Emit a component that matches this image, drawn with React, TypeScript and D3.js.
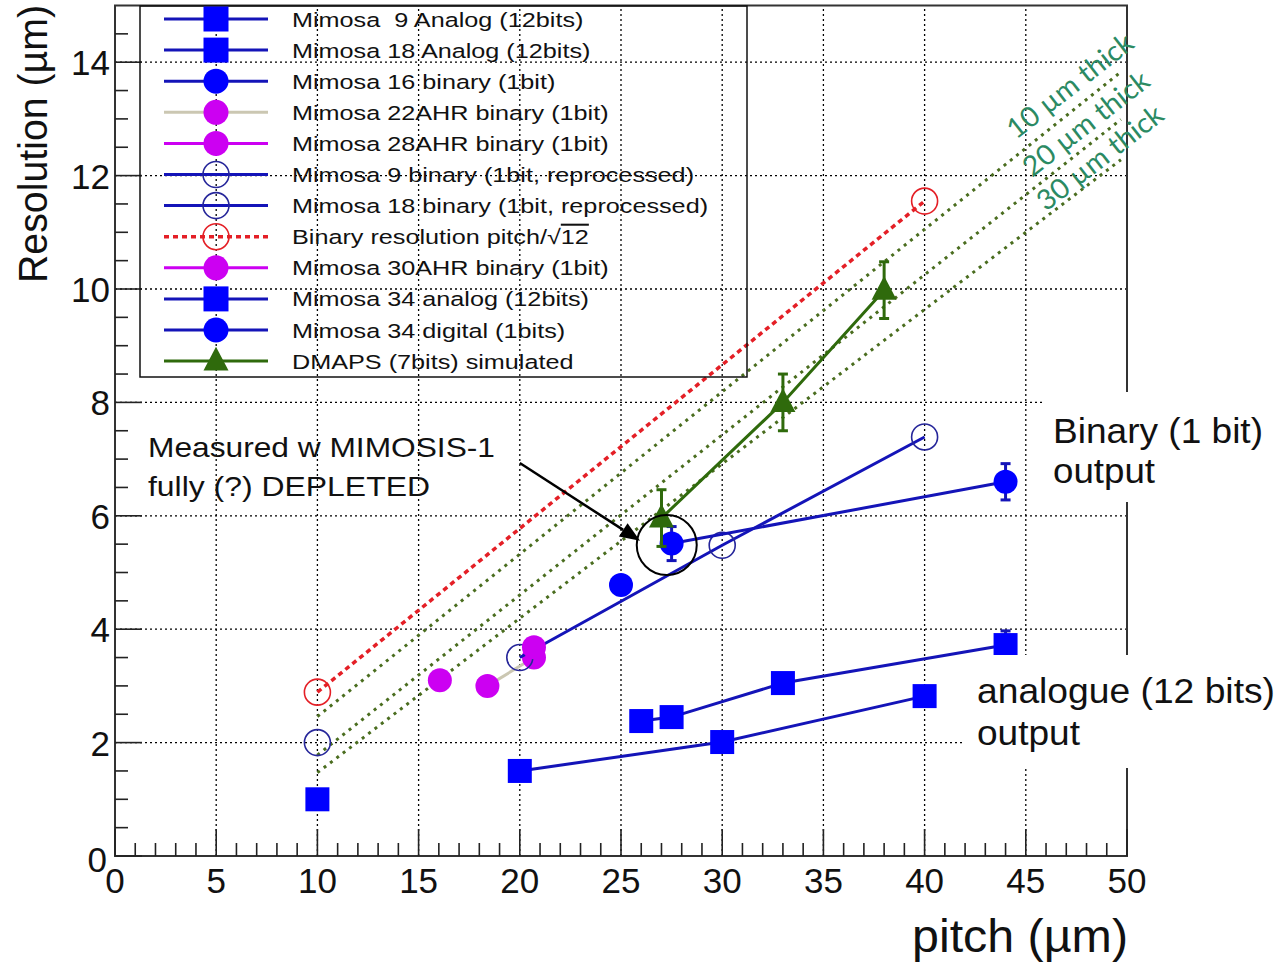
import React from "react";
import * as d3 from "d3";

const W = 1278;
const H = 963;

// ---------- data ----------
const m9AnalogPitch = [10];
const m9AnalogRes = [1.0];
const m18AnalogPitch = [20, 30, 40];
const m18AnalogRes = [1.5, 2.01, 2.82];
const m16BinaryPitch = [25];
const m16BinaryRes = [4.78];
const m22ahrPitch = [18.4, 20.7];
const m22ahrRes = [3.0, 3.5];
const m28ahrPitch = [16.05];
const m28ahrRes = [3.1];
const m9ReprocPitch = [10];
const m9ReprocRes = [2.0];
const m18ReprocPitch = [20, 30, 40];
const m18ReprocRes = [3.5, 5.48, 7.39];
const binaryLimitPitch = [10, 40];
const binaryLimitRes = [2.89, 11.55];
const m30ahrPitch = [20.7];
const m30ahrRes = [3.68];
const m34AnalogPitch = [26, 27.5, 33, 44];
const m34AnalogRes = [2.38, 2.45, 3.05, 3.72];
const m34AnalogErr = [0, 0, 0, 0.25];
const m34DigitalPitch = [27.5, 44];
const m34DigitalRes = [5.51, 6.6];
const m34DigitalErr = [0.3, 0.32];
const dmapsPitch = [27, 33, 38];
const dmapsRes = [5.96, 8.0, 9.98];
const dmapsErr = [0.5, 0.5, 0.5];

// thickness guide lines (pitch from -> to)
const thickLabels = ["10 µm thick", "20 µm thick", "30 µm thick"];
const thickPitch = [10, 49.7];
const thickResStart = [2.46, 1.78, 1.47];
const thickResEnd = [13.83, 12.99, 12.28];

const legendLabels = [
  "Mimosa  9 Analog (12bits)",
  "Mimosa 18 Analog (12bits)",
  "Mimosa 16 binary (1bit)",
  "Mimosa 22AHR binary (1bit)",
  "Mimosa 28AHR binary (1bit)",
  "Mimosa 9 binary (1bit, reprocessed)",
  "Mimosa 18 binary (1bit, reprocessed)",
  "Binary resolution pitch/√12",
  "Mimosa 30AHR binary (1bit)",
  "Mimosa 34 analog (12bits)",
  "Mimosa 34 digital (1bits)",
  "DMAPS (7bits) simulated",
];

const xMajor = [0, 5, 10, 15, 20, 25, 30, 35, 40, 45, 50];
const yMajor = [0, 2, 4, 6, 8, 10, 12, 14];

// ---------- styles ----------
const BLUE = "#0000ff";
const BLUE_LINE = "#1414b8";
const NAVY = "#26269a";
const MAGENTA = "#cc00f2";
const BEIGE = "#cbc7b2";
const RED = "#e41f26";
const GREEN = "#2f6a0c";
const GUIDE_GREEN = "#4a6d1f";
const TEXT_GREEN = "#2b8a63";
const FONT = "'Liberation Sans', Arial, Helvetica, sans-serif";

type Kind = "square" | "circle" | "open" | "triangle";

interface Series {
  label: string;
  pitch: number[];
  res: number[];
  err?: number[];
  kind: Kind;
  markerColor: string;
  lineColor: string;
  dashed?: boolean;
}

const series: Series[] = [
  { label: legendLabels[0], pitch: m9AnalogPitch, res: m9AnalogRes, kind: "square", markerColor: BLUE, lineColor: BLUE_LINE },
  { label: legendLabels[1], pitch: m18AnalogPitch, res: m18AnalogRes, kind: "square", markerColor: BLUE, lineColor: BLUE_LINE },
  { label: legendLabels[2], pitch: m16BinaryPitch, res: m16BinaryRes, kind: "circle", markerColor: BLUE, lineColor: BLUE_LINE },
  { label: legendLabels[3], pitch: m22ahrPitch, res: m22ahrRes, kind: "circle", markerColor: MAGENTA, lineColor: BEIGE },
  { label: legendLabels[4], pitch: m28ahrPitch, res: m28ahrRes, kind: "circle", markerColor: MAGENTA, lineColor: MAGENTA },
  { label: legendLabels[5], pitch: m9ReprocPitch, res: m9ReprocRes, kind: "open", markerColor: NAVY, lineColor: BLUE_LINE },
  { label: legendLabels[6], pitch: m18ReprocPitch, res: m18ReprocRes, kind: "open", markerColor: NAVY, lineColor: BLUE_LINE },
  { label: legendLabels[7], pitch: binaryLimitPitch, res: binaryLimitRes, kind: "open", markerColor: RED, lineColor: RED, dashed: true },
  { label: legendLabels[8], pitch: m30ahrPitch, res: m30ahrRes, kind: "circle", markerColor: MAGENTA, lineColor: MAGENTA },
  { label: legendLabels[9], pitch: m34AnalogPitch, res: m34AnalogRes, err: m34AnalogErr, kind: "square", markerColor: BLUE, lineColor: BLUE_LINE },
  { label: legendLabels[10], pitch: m34DigitalPitch, res: m34DigitalRes, err: m34DigitalErr, kind: "circle", markerColor: BLUE, lineColor: BLUE_LINE },
  { label: legendLabels[11], pitch: dmapsPitch, res: dmapsRes, err: dmapsErr, kind: "triangle", markerColor: GREEN, lineColor: GREEN },
];

function Marker({ kind, cx, cy, color, size }: { kind: Kind; cx: number; cy: number; color: string; size: number }) {
  if (kind === "square")
    return <rect x={cx - size / 2} y={cy - size / 2} width={size} height={size} fill={color} />;
  if (kind === "circle") return <circle cx={cx} cy={cy} r={size / 2} fill={color} />;
  if (kind === "open")
    return <circle cx={cx} cy={cy} r={size / 2} fill="none" stroke={color} strokeWidth={1.6} />;
  const h = size * 0.95;
  return (
    <path
      d={`M${cx},${cy - h * 0.6}L${cx + size / 2},${cy + h * 0.4}L${cx - size / 2},${cy + h * 0.4}Z`}
      fill={color}
    />
  );
}

export default function App() {
  const x = d3.scaleLinear().domain([0, 50]).range([115, 1127]);
  const y = d3.scaleLinear().domain([0, 15]).range([856, 5.5]);
  const line = d3
    .line<[number, number]>()
    .x((d) => x(d[0]))
    .y((d) => y(d[1]));

  const xMinor = d3.range(0, 51, 1).filter((v) => v % 5 !== 0);
  const yMinor = d3.range(0.5, 15, 0.5).filter((v) => v % 2 !== 0);

  const drawOrder = series.slice(0, 11);
  const dmaps = series[11];

  const legendX0 = 140;
  const legendX1 = 747;
  const legendTop = 6;
  const legendBottom = 377;
  const rowY = (i: number) => 19 + i * 31.1;

  const renderSeries = (s: Series, k: number) => {
    const pts = s.pitch.map((p, i) => [p, s.res[i]] as [number, number]);
    return (
      <g key={k}>
        {pts.length > 1 && (
          <path
            d={line(pts) || ""}
            fill="none"
            stroke={s.lineColor}
            strokeWidth={s.dashed ? 3.5 : 3}
            strokeDasharray={s.dashed ? "5,4" : undefined}
          />
        )}
        {s.err &&
          pts.map((d, i) =>
            s.err![i] > 0 ? (
              <g key={"e" + i} stroke={s.lineColor} strokeWidth={3}>
                <line x1={x(d[0])} x2={x(d[0])} y1={y(d[1] - s.err![i])} y2={y(d[1] + s.err![i])} />
                <line x1={x(d[0]) - 5} x2={x(d[0]) + 5} y1={y(d[1] + s.err![i])} y2={y(d[1] + s.err![i])} />
                <line x1={x(d[0]) - 5} x2={x(d[0]) + 5} y1={y(d[1] - s.err![i])} y2={y(d[1] - s.err![i])} />
              </g>
            ) : null
          )}
        {pts.map((d, i) => (
          <Marker
            key={i}
            kind={s.kind}
            cx={x(d[0])}
            cy={y(d[1])}
            color={s.markerColor}
            size={s.kind === "open" ? 26 : s.kind === "triangle" ? 25 : 24}
          />
        ))}
      </g>
    );
  };

  // annotation geometry in data coords
  const arrowFrom: [number, number] = [20.0, 6.93];
  const arrowTo: [number, number] = [25.94, 5.56];
  const circleAt: [number, number] = [27.26, 5.485];
  const ax0 = x(arrowFrom[0]);
  const ay0 = y(arrowFrom[1]);
  const ax1 = x(arrowTo[0]);
  const ay1 = y(arrowTo[1]);
  const ang = Math.atan2(ay1 - ay0, ax1 - ax0);
  const headL = 20;
  const headW = 8;
  const bx = ax1 - headL * Math.cos(ang);
  const by = ay1 - headL * Math.sin(ang);
  const head = `M${ax1},${ay1}L${bx + headW * Math.sin(ang)},${by - headW * Math.cos(ang)}L${bx - headW * Math.sin(ang)},${by + headW * Math.cos(ang)}Z`;

  const thickStartPos = [
    [1016, 140],
    [1032, 178],
    [1046, 212],
  ];

  return (
    <svg
      width={W}
      height={H}
      style={{ position: "absolute", left: 0, top: 0, background: "#fff" }}
      fontFamily={FONT}
    >
      <rect x={0} y={0} width={W} height={H} fill="#fff" />

      {/* grid */}
      <g stroke="#000" strokeWidth={1.3} strokeDasharray="2,3">
        {xMajor.filter((v) => v > 0 && v < 50).map((v) => (
          <line key={"gx" + v} x1={x(v)} x2={x(v)} y1={y(0)} y2={y(15)} />
        ))}
        {yMajor.filter((v) => v > 0).map((v) => (
          <line key={"gy" + v} x1={x(0)} x2={x(50)} y1={y(v)} y2={y(v)} />
        ))}
      </g>

      {/* thickness guides */}
      {thickResStart.map((r0, i) => (
        <path
          key={"t" + i}
          d={line([
            [thickPitch[0], r0],
            [thickPitch[1], thickResEnd[i]],
          ]) || ""}
          fill="none"
          stroke={GUIDE_GREEN}
          strokeWidth={3}
          strokeDasharray="3,5"
        />
      ))}

      {/* data */}
      {drawOrder.map((s, k) => renderSeries(s, k))}
      {renderSeries(dmaps, 11)}

      {/* frame + ticks */}
      <rect x={x(0)} y={y(15)} width={x(50) - x(0)} height={y(0) - y(15)} fill="none" stroke="#333" strokeWidth={2} />
      <g stroke="#222" strokeWidth={1.6}>
        {xMajor.map((v) => (
          <line key={"xt" + v} x1={x(v)} x2={x(v)} y1={y(0)} y2={y(0) - 27} />
        ))}
        {xMinor.map((v) => (
          <line key={"xm" + v} x1={x(v)} x2={x(v)} y1={y(0)} y2={y(0) - 13} />
        ))}
        {yMajor.map((v) => (
          <line key={"yt" + v} x1={x(0)} x2={x(0) + 27} y1={y(v)} y2={y(v)} />
        ))}
        {yMinor.map((v) => (
          <line key={"ym" + v} x1={x(0)} x2={x(0) + 13} y1={y(v)} y2={y(v)} />
        ))}
      </g>

      {/* tick labels */}
      <g fontSize={35} fill="#111">
        {xMajor.map((v) => (
          <text key={"xl" + v} x={x(v)} y={y(0) + 37} textAnchor="middle">
            {v}
          </text>
        ))}
        {yMajor.map((v) => (
          <text key={"yl" + v} x={v === 0 ? x(0) - 8 : x(0) - 5} y={y(v) + (v === 0 ? 16 : 13)} textAnchor="end">
            {v}
          </text>
        ))}
      </g>

      {/* axis titles */}
      <text fontSize={40} textAnchor="middle" transform={`translate(47,144) rotate(-90)`} textLength={278} lengthAdjust="spacingAndGlyphs" fill="#111">
        Resolution (µm)
      </text>
      <text x={1128} y={952} fontSize={46} textAnchor="end" textLength={216} lengthAdjust="spacingAndGlyphs" fill="#111">
        pitch (µm)
      </text>

      {/* legend */}
      <rect x={legendX0} y={legendTop} width={legendX1 - legendX0} height={legendBottom - legendTop} fill="none" stroke="#111" strokeWidth={1.5} />
      {series.map((s, i) => {
        const cy = rowY(i);
        return (
          <g key={"lg" + i}>
            <line
              x1={164}
              x2={268}
              y1={cy}
              y2={cy}
              stroke={s.lineColor}
              strokeWidth={s.dashed ? 3.5 : 3}
              strokeDasharray={s.dashed ? "5,4" : undefined}
            />
            <Marker kind={s.kind} cx={216} cy={cy} color={s.markerColor} size={s.kind === "open" ? 26 : 25} />
            <text
              transform={`translate(292,${cy + 7.5}) scale(1.23,1)`}
              fontSize={20.5}
              fill="#111"
              style={{ whiteSpace: "pre" }}
            >
              {i === 7 ? (
                <>
                  Binary resolution pitch/√<tspan style={{ textDecoration: "overline" }}>12</tspan>
                </>
              ) : (
                s.label
              )}
            </text>
          </g>
        );
      })}

      {/* thickness labels */}
      {thickLabels.map((t, i) => (
        <text
          key={"tl" + i}
          transform={`translate(${thickStartPos[i][0]},${thickStartPos[i][1]}) rotate(-38)`}
          fontSize={28}
          fontFamily="Lato, 'Open Sans', sans-serif"
          fill={TEXT_GREEN}
          textLength={152}
          lengthAdjust="spacingAndGlyphs"
        >
          {t}
        </text>
      ))}

      {/* MIMOSIS annotation */}
      <line x1={ax0} y1={ay0} x2={bx} y2={by} stroke="#000" strokeWidth={2.5} />
      <path d={head} fill="#000" />
      <circle cx={x(circleAt[0])} cy={y(circleAt[1])} r={30} fill="none" stroke="#000" strokeWidth={2} />
      <text x={148} y={457} fontSize={28} textLength={347} lengthAdjust="spacingAndGlyphs" fill="#111">
        Measured w MIMOSIS-1
      </text>
      <text x={148} y={496} fontSize={28} textLength={282} lengthAdjust="spacingAndGlyphs" fill="#111">
        fully (?) DEPLETED
      </text>

      {/* right-side labels */}
      <rect x={1042} y={392} width={236} height={110} fill="#fff" />
      <text x={1053} y={443} fontSize={35} textLength={210} lengthAdjust="spacingAndGlyphs" fill="#111">
        Binary (1 bit)
      </text>
      <text x={1053} y={483} fontSize={35} textLength={102} lengthAdjust="spacingAndGlyphs" fill="#111">
        output
      </text>
      <rect x={962} y={655} width={316} height={113} fill="#fff" />
      <text x={977} y={703} fontSize={35} textLength={298} lengthAdjust="spacingAndGlyphs" fill="#111">
        analogue (12 bits)
      </text>
      <text x={977} y={745} fontSize={35} textLength={103} lengthAdjust="spacingAndGlyphs" fill="#111">
        output
      </text>
    </svg>
  );
}
